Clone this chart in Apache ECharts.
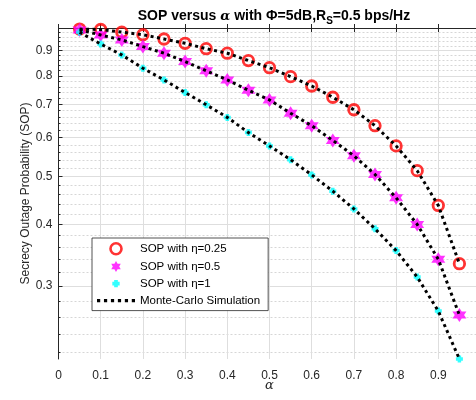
<!DOCTYPE html>
<html><head><meta charset="utf-8">
<script src="https://cdn.jsdelivr.net/npm/echarts@6/dist/echarts.min.js"></script>
<style>html,body{margin:0;padding:0;background:#fff}#c{width:476px;height:400px}</style>
</head><body><div id="c"></div>
<script>
const alpha = [0.05,0.10,0.15,0.20,0.25,0.30,0.35,0.40,0.45,0.50,0.55,0.60,0.65,0.70,0.75,0.80,0.85,0.90,0.95];
const sopEta025 = [0.995,0.993,0.981,0.969,0.950,0.931,0.908,0.889,0.859,0.831,0.797,0.763,0.724,0.683,0.634,0.577,0.514,0.437,0.333];
const sopEta05  = [0.991,0.968,0.946,0.917,0.889,0.855,0.819,0.785,0.748,0.715,0.672,0.634,0.592,0.551,0.505,0.453,0.400,0.340,0.262];
const sopEta1   = [0.980,0.928,0.882,0.829,0.785,0.740,0.699,0.659,0.614,0.577,0.541,0.504,0.467,0.430,0.392,0.354,0.313,0.267,0.2135];
const mcEta025 = sopEta025.slice();
const mcEta05 = sopEta05.slice();
const mcEta1 = sopEta1.slice();
const xTicks = [0,0.1,0.2,0.3,0.4,0.5,0.6,0.7,0.8,0.9];
const yTicks = [0.3,0.4,0.5,0.6,0.7,0.8,0.9];
const yMin = 0.2135, yMax = 1.0;
const legendNames = ['SOP with \u03b7=0.25','SOP with \u03b7=0.5','SOP with \u03b7=1','Monte-Carlo Simulation'];

const L = Math.log10;
const toPts = arr => alpha.map((a,i)=>[a, L(arr[i])]);
const minorVals = [];
for (let k = 22; k < 100; k += 2) { if (k % 10 !== 0) minorVals.push(L(k/100)); }

const FONT = 'Liberation Sans, Arial, Helvetica, sans-serif';
const AX = '#262626';
const hexagram = 'path://M0,-10 L2.887,-5 L8.66,-5 L5.774,0 L8.66,5 L2.887,5 L0,10 L-2.887,5 L-8.66,5 L-5.774,0 L-8.66,-5 L-2.887,-5 Z';
const plus = 'path://M-2,-4 L2,-4 L2,-2 L4,-2 L4,2 L2,2 L2,4 L-2,4 L-2,2 L-4,2 L-4,-2 L-2,-2 Z';
const plusLegend = 'path://M-6,-6 L-6,-5.99 L-5.99,-6 Z M6,6 L6,5.99 L5.99,6 Z M-2,-4 L2,-4 L2,-2 L4,-2 L4,2 L2,2 L2,4 L-2,4 L-2,2 L-4,2 L-4,-2 L-2,-2 Z';
let dotPath = 'path://';
for (let i = 0; i < 6; i++) { const x0 = i*6.5; dotPath += 'M'+x0+',0 h3 v3 h-3 Z '; }
const mcLine = {color:'#000', width:3, type:[3,3.5], cap:'butt'};

const chart = echarts.init(document.getElementById('c'), null, {renderer:'canvas'});
chart.setOption({
  animation:false,
  backgroundColor:'#fff',
  textStyle:{fontFamily:FONT},
  title:{
    left:269, top:3, textAlign:'center',
    text:'{b|SOP versus }{a|\u03b1}{b| with \u03a6=5dB,R}{s|S}{b|=0.5 bps/Hz}',
    textStyle:{rich:{
      b:{fontSize:14,fontWeight:'bold',fontFamily:FONT,color:'#000',lineHeight:17},
      a:{fontSize:13,fontStyle:'italic',fontFamily:'DejaVu Serif, serif',color:'#000',lineHeight:17},
      s:{fontSize:10,fontWeight:'bold',fontFamily:FONT,color:'#000',lineHeight:17,padding:[9,0,0,0]}
    }}
  },
  grid:{left:58.5,right:-4.5,top:28,bottom:41,containLabel:false,outerBoundsMode:'none'},
  legend:{
    orient:'vertical', left:92, top:238,
    data:[
      {name:legendNames[0],icon:'circle',itemStyle:{color:'rgba(255,255,255,0)',borderColor:'#ff0000',borderWidth:2.6}},
      {name:legendNames[1],icon:hexagram,itemStyle:{color:'#ff00ff',borderWidth:0}},
      {name:legendNames[2],icon:plusLegend,itemStyle:{color:'#00ffff',borderWidth:0}},
      {name:legendNames[3],icon:dotPath,itemStyle:{color:'#000',borderWidth:0}}
    ],
    itemWidth:38, itemHeight:11, itemGap:5,
    padding:[4,8,4,5],
    backgroundColor:'#fff', borderColor:AX, borderWidth:0.8,
    textStyle:{fontSize:11.5,color:'#000',fontFamily:FONT}
  },
  xAxis:[{
    type:'value', min:0, max:1, interval:0.1, position:'bottom',
    axisLine:{show:true,lineStyle:{color:AX,width:1}},
    axisTick:{show:true,inside:true,length:4,lineStyle:{color:AX}},
    axisLabel:{customValues:xTicks,color:AX,fontSize:12,margin:11,fontFamily:FONT,formatter:v=>String(Math.round(v*10)/10)},
    splitLine:{show:true,lineStyle:{color:'#dedede',width:1}},
    name:'\u03b1', nameLocation:'middle', nameGap:20, nameMoveOverlap:false,
    nameTextStyle:{fontSize:13,fontStyle:'italic',color:AX,fontFamily:'DejaVu Serif, serif'}
  },{
    type:'value', min:0, max:1, interval:0.1, position:'top',
    axisLine:{show:true,lineStyle:{color:AX,width:1}},
    axisTick:{show:true,inside:true,length:4,lineStyle:{color:AX}},
    axisLabel:{show:false}, splitLine:{show:false}
  }],
  yAxis:[{
    type:'value', min:L(yMin), max:L(yMax), position:'left',
    axisLine:{show:true,lineStyle:{color:AX,width:1}},
    axisTick:{show:true,inside:true,length:4,customValues:yTicks.map(L),lineStyle:{color:AX}},
    axisLabel:{customValues:yTicks.map(L),color:AX,fontSize:12,margin:6,fontFamily:FONT,
      formatter:v=>String(Math.round(Math.pow(10,v)*10)/10)},
    splitLine:{show:true,lineStyle:{color:'#dedede',width:1}},
    name:'Secrecy Outage Probability (SOP)', nameLocation:'middle', nameGap:27, nameMoveOverlap:false,
    nameTextStyle:{fontSize:12,color:AX,fontFamily:FONT}
  },{
    type:'value', min:L(yMin), max:L(yMax), position:'left',
    axisLine:{show:false},
    axisTick:{show:true,inside:true,length:2,customValues:minorVals,lineStyle:{color:AX}},
    axisLabel:{show:false},
    splitLine:{show:true,lineStyle:{color:'#d6d6d6',width:1,type:[2,2]}}
  }],
  series:[
    {name:legendNames[0],type:'scatter',data:toPts(sopEta025),symbol:'circle',symbolSize:10.5,
      itemStyle:{color:'rgba(255,255,255,0)',borderColor:'#ff0000',borderWidth:2.8},z:3},
    {name:legendNames[1],type:'scatter',data:toPts(sopEta05),symbol:hexagram,symbolSize:14,
      itemStyle:{color:'#ff00ff'},z:3},
    {name:legendNames[2],type:'scatter',data:toPts(sopEta1),symbol:plus,symbolSize:7,
      itemStyle:{color:'#00ffff'},z:3},
    {name:legendNames[3],type:'line',data:toPts(mcEta025),symbol:'none',lineStyle:mcLine,z:4,itemStyle:{color:'#000'}},
    {name:legendNames[3],type:'line',data:toPts(mcEta05),symbol:'none',lineStyle:mcLine,z:4,itemStyle:{color:'#000'}},
    {name:legendNames[3],type:'line',data:toPts(mcEta1),symbol:'none',lineStyle:mcLine,z:4,itemStyle:{color:'#000'}}
  ]
});
</script></body></html>
